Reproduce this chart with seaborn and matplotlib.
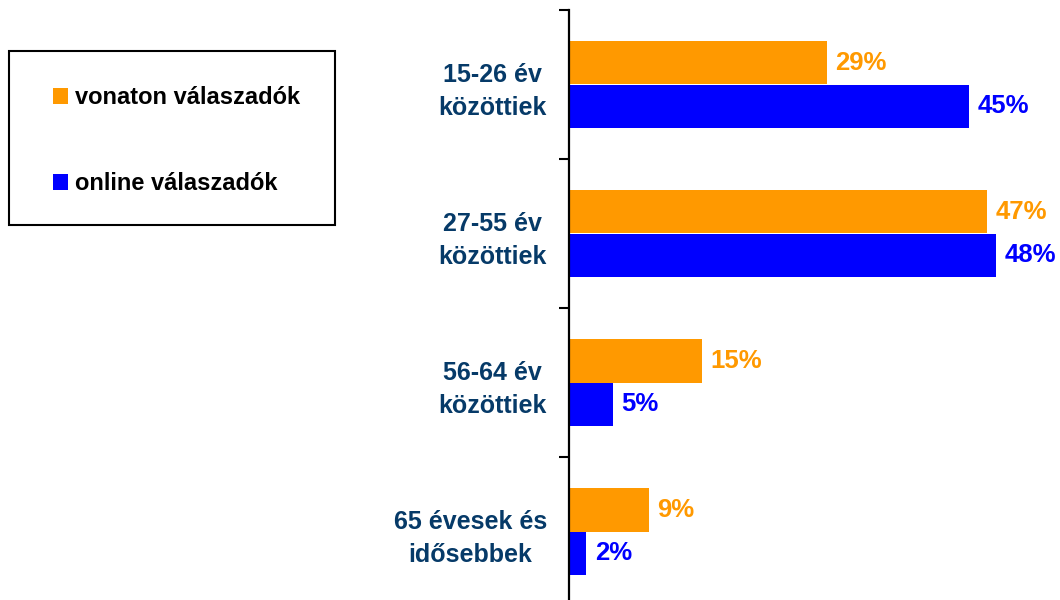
import pandas as pd
import matplotlib.pyplot as plt
import seaborn as sns
from matplotlib.patches import Patch, Rectangle
from matplotlib.ticker import FixedLocator

# Chart data
age_groups = ['15-26 év\nközöttiek', '27-55 év\nközöttiek',
              '56-64 év\nközöttiek', '65 évesek és\nidősebbek']
series_names = ['vonaton válaszadók', 'online válaszadók']
vonaton_pct = [29, 47, 15, 9]
online_pct = [45, 48, 5, 2]

orange = '#FF9900'
blue = '#0000FF'
navy = '#063A68'

df = pd.DataFrame({
    'age': age_groups * 2,
    'group': [series_names[0]] * len(age_groups) + [series_names[1]] * len(age_groups),
    'value': vonaton_pct + online_pct,
})

sns.set_style('white')
plt.rcParams['font.family'] = ['Liberation Sans', 'DejaVu Sans']
plt.rcParams['font.weight'] = 'bold'
plt.rcParams['text.color'] = 'black'

fig = plt.figure(figsize=(10.6, 6), dpi=100)
ax = fig.add_axes([568.5 / 1060, -6 / 600, 490 / 1060, 596 / 600])

sns.barplot(data=df, x='value', y='age', hue='group', order=age_groups,
            hue_order=series_names, palette=[orange, blue], orient='h',
            width=0.58, saturation=1, legend=False, linewidth=0, ax=ax)

# value labels
for cont, col in zip(ax.containers, [orange, blue]):
    ax.bar_label(cont, labels=[f'{v:.0f}%' for v in cont.datavalues],
                 padding=6, color=col, fontsize=18.5, fontweight='bold')

ax.set_xlim(0, 55)
ax.set_ylim(len(age_groups) - 0.5, -0.5)
ax.set_xlabel('')
ax.set_ylabel('')
ax.set_xticks([])

# category labels without ticks, boundary ticks as minor ticks
ax.tick_params(axis='y', which='major', length=0, pad=15.5,
               labelsize=18, labelcolor=navy)
for lbl in ax.get_yticklabels():
    lbl.set_multialignment('center')
    lbl.set_fontweight('bold')
    lbl.set_linespacing(1.45)
ax.yaxis.set_minor_locator(FixedLocator([i - 0.5 for i in range(len(age_groups) + 1)]))
ax.tick_params(axis='y', which='minor', length=7, width=1.5, direction='out',
               color='black', left=True)

for side in ['top', 'right', 'bottom']:
    ax.spines[side].set_visible(False)
ax.spines['left'].set_color('black')
ax.spines['left'].set_linewidth(1.6)

# legend box
fig.patches.append(Rectangle((9 / 1060, 1 - 225 / 600), 326 / 1060, 174 / 600,
                             transform=fig.transFigure, facecolor='none',
                             edgecolor='black', linewidth=1.5))
handles = [Patch(facecolor=orange, edgecolor='none'),
           Patch(facecolor=blue, edgecolor='none')]
leg = fig.legend(handles, series_names, loc='upper left',
                 bbox_to_anchor=(53 / 1060, 1 - 86 / 600),
                 frameon=False,
                 handlelength=0.65, handleheight=0.65, handletextpad=0.3,
                 labelspacing=2.68, borderpad=0, borderaxespad=0,
                 prop={'size': 17, 'weight': 'bold'})

fig.savefig('out.png', dpi=100)
